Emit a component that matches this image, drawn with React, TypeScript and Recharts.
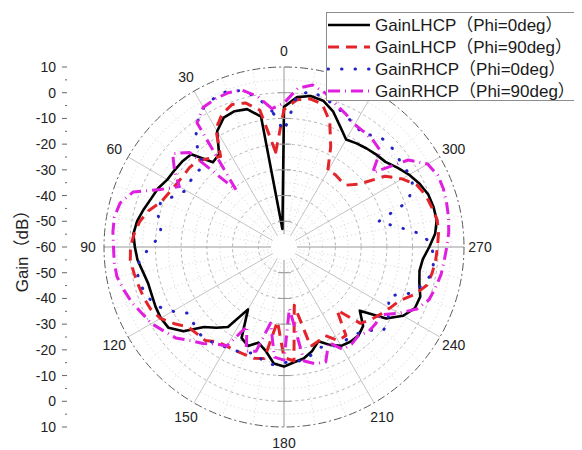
import { RadarChart, Radar, PolarGrid, PolarAngleAxis, PolarRadiusAxis, Legend } from 'recharts';

const FONT = "'Liberation Sans', Arial, 'Noto Sans CJK SC', sans-serif";
const CX = 276;
const CY = 239;
const R = 180;
const G_MIN = -60;
const G_MAX = 10;

// theta (deg), measured counter-clockwise from the top
const angles = [
  0, 5, 10, 15, 20, 25, 30, 35, 40, 45, 50, 55, 60, 65, 70, 75, 80, 85,
  90, 95, 100, 105, 110, 115, 120, 125, 130, 135, 140, 145, 150, 155, 160, 165, 170, 175,
  180, 185, 190, 195, 200, 205, 210, 215, 220, 225, 230, 235, 240, 245, 250, 255, 260, 265,
  270, 275, 280, 285, 290, 295, 300, 305, 310, 315, 320, 325, 330, 335, 340, 345, 350, 355,
];

const gainLhcpPhi0 = [
  -53, -8.5, -4.5, -3.8, -4.5, -8, -16, -17, -9, -8.3, -8, -7.6, -6, -5, -3.5, -2, -1.2, -2,
  -2.8, -4.3, -5.3, -5.3, -4.9, -4.7, -5.2, -9, -16, -19, -22, -32, -21, -19, -21.5, -19, -14.5, -13.5,
  -15, -16, -18, -21, -18, -15.6, -15, -15, -16.5, -21.5, -11.5, -6.5, -3.8, -3.6, -5.5, -6.5, -5.8, -3.5,
  -1, 0.3, 0.2, -0.3, -1.8, -3.8, -6.2, -8.5, -9.2, -10, -10.8, -11.7, -8.3, -4, -1.1, -0.4, -1.5, -5.5,
];

const gainLhcpPhi90 = [
  -23, -6, -2, -1, -3, -7, -17, -15, -12.5, -12, -12, -11.5, -10.5, -9, -5.5, -3, -1.5, -0.3,
  0, -0.8, -1.5, -2, -2.8, -4.5, -8, -11.5, -12.2, -12.5, -15, -15.5, -15.5, -15.5, -15.2, -16, -31, -17,
  -15.5, -37, -20, -21, -22, -18, -18, -28, -18, -16, -14.3, -12.5, -10.5, -6, -2.5, -1.5, -0.8, -0.3,
  0.3, 0.5, -0.5, -1.3, -3, -7, -12, -22, -26, -26, -25.5, -26, -17, -8, -2.5, -1.5, -2.5, -6.5,
];

const gainRhcpPhi0 = [
  -7, -1, 3, 4.5, 4, 2.5, -1, -6.5, -16, -15, -15.5, -16, -13, -9, -9, -11.5, -11.5, -8,
  -3.6, -2, -2.4, -3.5, -5.5, -10, -15, -14, -12.8, -13, -14, -15, -15.5, -16, -17.5, -14.5, -14, -15,
  -15.5, -15, -17, -18.5, -17, -16.5, -16.5, -16, -14, -9.5, -10.5, -13, -15, -7.5, -3.8, -1.5, -1.5, -2.5,
  -5.5, -15, -22, -9, -4.5, -3.6, -4, -3.3, -2.6, -3.5, -6.5, -5, -3.5, -1.5, 0, 1.5, -0.7, -15,
];

const gainRhcpPhi90 = [
  -6, -0.5, 3.2, 3.8, 3.5, 2.8, -1, -31, -8, -3.5, -8, -13, -7, 2.5, 6, 7, 6.8, 6.3,
  6.3, 6, 4.5, 3, 1, -0.5, -3, -5, -8.5, -11, -14, -15.5, -26, -17, -18, -30, -17, -16,
  -36, -15, -13, -12.5, -19, -14, -14, -15, -13.5, -13.5, -14, -8.5, -3, 0, 1, 2, 2.5, 3.3,
  4.3, 5, 5.5, 6, 6, 4.5, -1, -15, -7, -6, -5.5, -5, -3, -1, 2, 4, 2, -4,
];

const gainTicks = [-60, -55, -50, -45, -40, -35, -30, -25, -20, -15, -10, -5, 0, 5, 10];
const majorRings = [-50, -40, -30, -20, -10, 0];
const minorRings = [-55, -45, -35, -25, -15, -5, 5];
const angleLabels = [0, 30, 60, 90, 120, 150, 180, 210, 240, 270, 300, 330];
const mainSpokes = [0, 90, 180, 270];
const sideSpokes = [30, 60, 120, 150, 210, 240, 300, 330];
const minorSpokes = [10, 20, 40, 50, 70, 80, 100, 110, 130, 140, 160, 170, 190, 200, 220, 230, 250, 260, 280, 290, 310, 320, 340, 350];

const series = [
  { key: 'lhcp0', name: 'GainLHCP（Phi=0deg）', color: '#000000', width: 2.6, dash: undefined as string | undefined, cap: 'butt' },
  { key: 'lhcp90', name: 'GainLHCP（Phi=90deg）', color: '#e3252b', width: 3, dash: '11 7', cap: 'butt' },
  { key: 'rhcp0', name: 'GainRHCP（Phi=0deg）', color: '#2424c4', width: 3, dash: '0.5 13', cap: 'round' },
  { key: 'rhcp90', name: 'GainRHCP（Phi=90deg）', color: '#e01ee0', width: 3, dash: '12 5 1 5', cap: 'butt' },
];

const data = angles.map((a, i) => ({
  angle: a,
  lhcp0: gainLhcpPhi0[i],
  lhcp90: gainLhcpPhi90[i],
  rhcp0: gainRhcpPhi0[i],
  rhcp90: gainRhcpPhi90[i],
}));

// ring radius for a gain value, same linear mapping as the radius axis
const ringR = (g: number) => ((g - G_MIN) / (G_MAX - G_MIN)) * R;
// chart degrees (0 = 3 o'clock, counter-clockwise); theta 0 sits at the top
const toChartDeg = (t: number) => 90 + t;

const AngleTick = (props: any) => {
  const { payload } = props;
  const v = Number(payload.value);
  if (!angleLabels.includes(v)) return <g />;
  const rad = (toChartDeg(v) * Math.PI) / 180;
  const x = CX + 196 * Math.cos(rad);
  const y = CY - 196 * Math.sin(rad);
  return (
    <text x={x} y={y} textAnchor="middle" dominantBaseline="central" fontSize={14} fill="#222" fontFamily={FONT}>
      {v}
    </text>
  );
};

const GainTick = (props: any) => {
  const { y, payload } = props;
  const v = Number(payload.value);
  const major = v % 10 === 0;
  const yDown = 2 * CY - y;
  return (
    <g>
      <line x1={major ? 54 : 57} x2={59} y1={y} y2={y} stroke="#666" strokeWidth={1} />
      {v !== G_MIN && <line x1={major ? 54 : 57} x2={59} y1={yDown} y2={yDown} stroke="#666" strokeWidth={1} />}
      {major && (
        <text x={48} y={y} textAnchor="end" dominantBaseline="central" fontSize={14} fill="#222" fontFamily={FONT}>
          {v}
        </text>
      )}
      {major && v !== G_MIN && (
        <text x={48} y={yDown} textAnchor="end" dominantBaseline="central" fontSize={14} fill="#222" fontFamily={FONT}>
          {v}
        </text>
      )}
      {major && v !== G_MIN && v !== G_MAX && (
        <>
          <line x1={CX - 6} x2={CX + 7} y1={y} y2={y} stroke="#999" strokeWidth={1} />
          <line x1={CX - 6} x2={CX + 7} y1={yDown} y2={yDown} stroke="#999" strokeWidth={1} />
        </>
      )}
    </g>
  );
};

const LegendBox = () => (
  <div
    style={{
      width: 256,
      height: 89,
      boxSizing: 'border-box',
      border: '1px solid #8c8c8c',
      background: '#fff',
      fontFamily: FONT,
      fontSize: 17,
      lineHeight: '22px',
      color: '#1a1a1a',
      paddingTop: 1,
      overflow: 'hidden',
    }}
  >
    {series.map((s) => (
      <div key={s.key} style={{ display: 'flex', alignItems: 'center', height: 22, whiteSpace: 'nowrap' }}>
        <svg width={44} height={10} style={{ flex: 'none' }}>
          <line
            x1={1}
            x2={43}
            y1={5}
            y2={5}
            stroke={s.color}
            strokeWidth={s.width}
            strokeDasharray={s.dash}
            strokeLinecap={s.cap as any}
          />
        </svg>
        <span
          style={{
            marginLeft: 4,
            display: 'inline-block',
            height: 21,
            lineHeight: '21px',
            overflow: 'hidden',
          }}
        >
          {s.name}
        </span>
      </div>
    ))}
  </div>
);

export default function App() {
  return (
    <div style={{ width: 574, height: 442, position: 'relative' }}>
      <RadarChart
        width={574}
        height={442}
        data={data}
        cx={CX}
        cy={CY}
        innerRadius={0}
        outerRadius={R}
        startAngle={90}
        endAngle={450}
        margin={{ top: 0, right: 0, bottom: 0, left: 0 }}
      >
        <PolarGrid gridType="circle" radialLines={false} polarRadius={minorRings.map(ringR)} stroke="#cfcfcf" strokeDasharray="1 3" />
        <PolarGrid gridType="circle" radialLines={false} polarRadius={majorRings.map(ringR)} stroke="#b3b3b3" strokeDasharray="3 3" />
        <PolarGrid gridType="circle" polarRadius={[]} polarAngles={minorSpokes.map(toChartDeg)} stroke="#d6d6d6" strokeDasharray="1 3" />
        <PolarGrid gridType="circle" polarRadius={[]} polarAngles={sideSpokes.map(toChartDeg)} stroke="#c4c4c4" />
        <PolarGrid gridType="circle" polarRadius={[]} polarAngles={mainSpokes.map(toChartDeg)} stroke="#9a9a9a" />
        <PolarGrid gridType="circle" radialLines={false} polarRadius={[R]} stroke="#5a5a5a" strokeDasharray="8 3 2 3" />
        <circle cx={CX} cy={CY} r={13} fill="#fff" />
        <PolarAngleAxis dataKey="angle" tick={<AngleTick />} tickLine={false} axisLine={false} />
        <PolarRadiusAxis
          angle={90}
          type="number"
          domain={[G_MIN, G_MAX]}
          ticks={gainTicks}
          tickCount={15}
          allowDataOverflow
          axisLine={false}
          tick={<GainTick />}
        />
        {series.map((s) => (
          <Radar
            key={s.key}
            dataKey={s.key}
            name={s.name}
            stroke={s.color}
            strokeWidth={s.width}
            strokeDasharray={s.dash}
            strokeLinecap={s.cap as any}
            strokeLinejoin="round"
            fill="none"
            fillOpacity={0}
            dot={false}
            isAnimationActive={false}
          />
        ))}
        <text
          x={14}
          y={CY}
          transform={`rotate(-90 14 ${CY})`}
          textAnchor="middle"
          dominantBaseline="central"
          fontSize={17}
          fill="#222"
          fontFamily={FONT}
        >
          Gain（dB）
        </text>
        <Legend
          layout="vertical"
          align="right"
          verticalAlign="top"
          content={<LegendBox />}
          wrapperStyle={{ position: 'absolute', left: 318, top: 4, width: 256, right: 'auto' }}
        />
      </RadarChart>
    </div>
  );
}
